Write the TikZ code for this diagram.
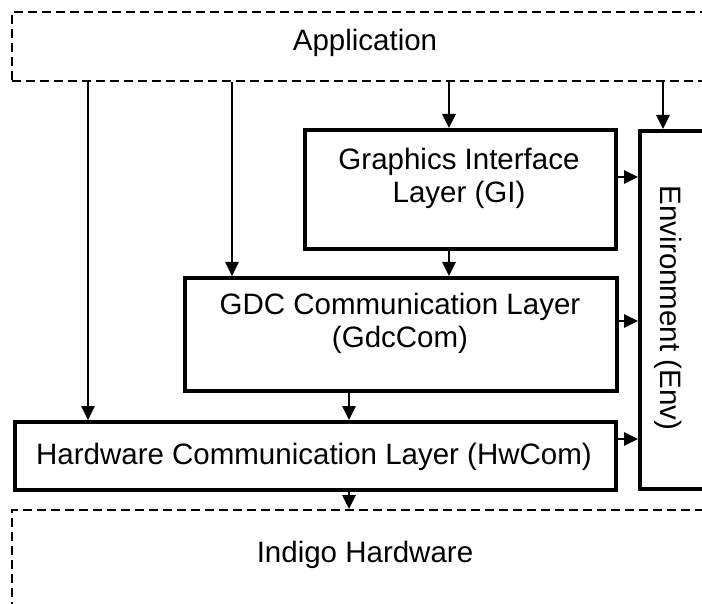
\documentclass[tikz,border=0pt]{standalone}
\usepackage{fontspec}
\setmainfont{Liberation Sans}
\usetikzlibrary{arrows.meta}
\begin{document}
\begin{tikzpicture}[x=1pt,y=-1pt,
  every node/.style={font=\fontsize{29.5}{33}\selectfont},
  layer/.style={draw=black, line width=3.6pt, minimum width=#1, anchor=north west, inner sep=0pt},
  outer/.style={draw=black, line width=2.2pt, dash pattern=on 9pt off 5pt, anchor=north west, inner sep=0pt},
  txt/.style={align=center, inner sep=0pt},
  arr/.style={line width=2.6pt, -{Triangle[length=14pt,width=13pt]}}]
\useasboundingbox (0,0) rectangle (702,604);
\clip (0,0) rectangle (702,604);

% outer boundaries
\node[outer, minimum width=720pt, minimum height=69pt] (app) at (11,11) {};
\node[txt] (appt) at (365,43) {Application};
\node[outer, minimum width=720pt, minimum height=120pt] (hwr) at (11,509) {};
\node[txt] (hwrt) at (365,555) {Indigo Hardware};

% layers
\node[layer=311pt, minimum height=119pt] (gi) at (303,128) {};
\node[txt] (git) at (459,178) {Graphics Interface\\Layer (GI)};
\node[layer=432pt, minimum height=113pt] (gdc) at (183,276) {};
\node[txt] (gdct) at (400,323) {GDC Communication Layer\\(GdcCom)};
\node[layer=601pt, minimum height=68pt] (hw) at (13,420) {};
\node[txt] (hwt) at (314,457) {Hardware Communication Layer (HwCom)};
\node[layer=80pt, minimum height=358pt] (env) at (638,129) {};
\node[txt, rotate=-90] (envt) at (668,308) {Environment (Env)};

% columns of the calls coming down from the application
\coordinate (c1) at (88,0);
\coordinate (c2) at (232,0);
\coordinate (c3) at (449,0);
\coordinate (c4) at (663,0);
\coordinate (c5) at (349,0);

\draw[arr] (app.south -| c1) -- (hw.north -| c1);
\draw[arr] (app.south -| c2) -- (gdc.north -| c2);
\draw[arr] (app.south -| c3) -- (gi.north -| c3);
\draw[arr] (app.south -| c4) -- (env.north -| c4);
\draw[arr] (gi.south -| c3) -- (gdc.north -| c3);
\draw[arr] (gdc.south -| c5) -- (hw.north -| c5);
\draw[arr] (hw.south -| c5) -- (hwr.north -| c5);

% calls into the environment
\coordinate (r1) at (0,177);
\coordinate (r2) at (0,321);
\coordinate (r3) at (0,439);
\draw[arr] (gi.east |- r1) -- (env.west |- r1);
\draw[arr] (gdc.east |- r2) -- (env.west |- r2);
\draw[arr] (hw.east |- r3) -- (env.west |- r3);
\end{tikzpicture}
\end{document}
